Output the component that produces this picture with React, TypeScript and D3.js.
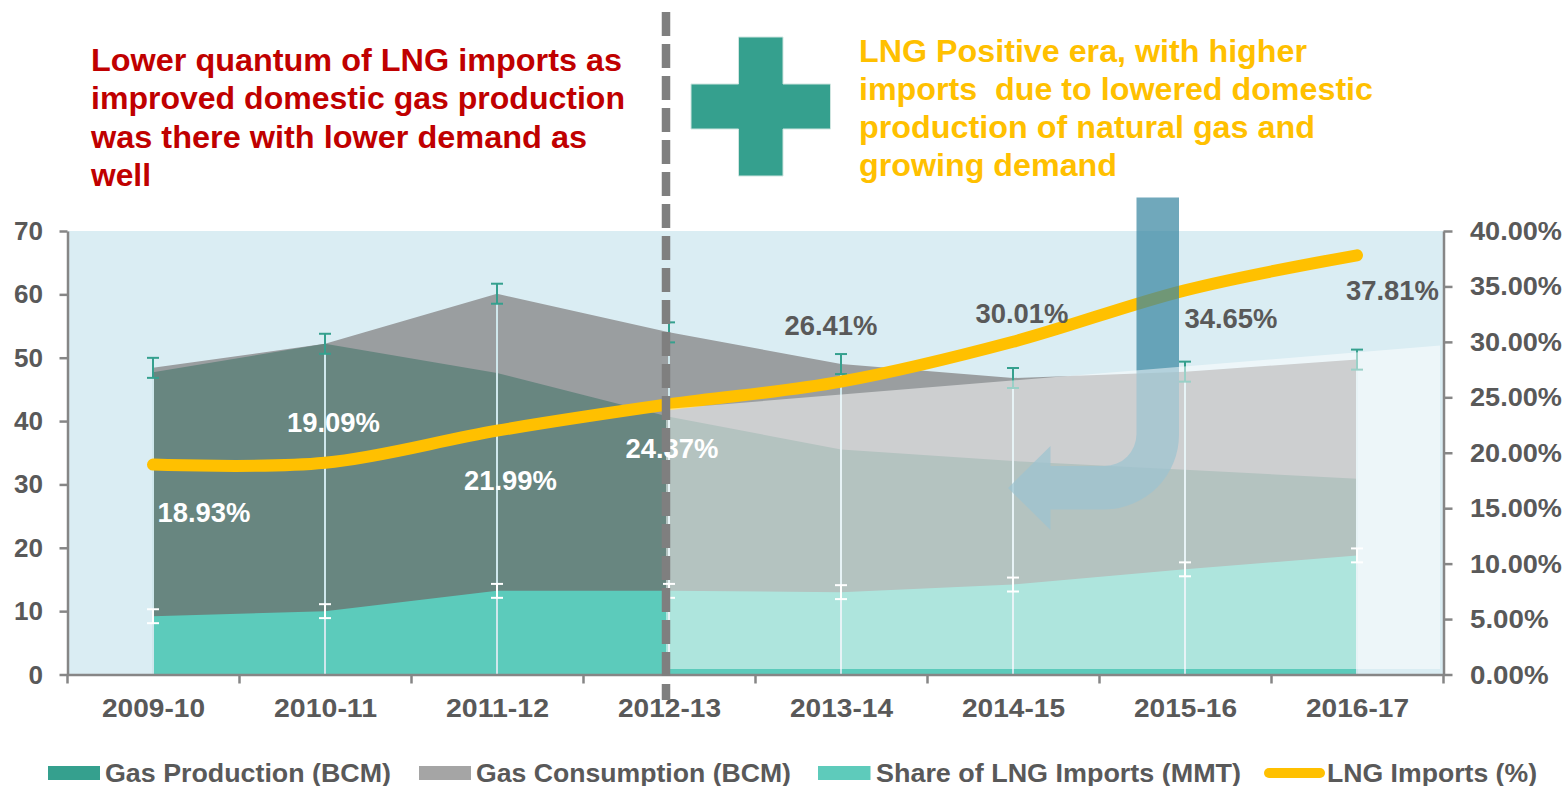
import React, { useEffect, useRef } from 'react';
import * as d3 from 'd3';

const years = ['2009-10', '2010-11', '2011-12', '2012-13', '2013-14', '2014-15', '2015-16', '2016-17'];
const production = [47.7, 52.2, 47.6, 40.7, 35.5, 33.7, 32.3, 30.9];
const consumption = [48.4, 52.2, 60.1, 54, 49, 46.8, 47.8, 49.7];
const lngShare = [9.2, 10, 13.2, 13.2, 13, 14.2, 16.6, 18.8];
const lngPercent = [18.93, 19.09, 21.99, 24.37, 26.41, 30.01, 34.65, 37.81];

const leftTicks = [0, 10, 20, 30, 40, 50, 60, 70];
const rightTicks = [0, 5, 10, 15, 20, 25, 30, 35, 40];

const redLines = [
  'Lower quantum of LNG imports as',
  'improved domestic gas production',
  'was there with lower demand as',
  'well',
];
const yellowLines = [
  'LNG Positive era, with higher',
  'imports  due to lowered domestic',
  'production of natural gas and',
  'growing demand',
];
const redWidths = [531, 534, 496, 60];
const yellowWidths = [448, 514, 456, 258];

// label placement, relative to the line point: dx, baseline dy, fill
const labelOffsets = [
  [50.5, 57, '#fff'],
  [8, -31, '#fff'],
  [13, 59, '#fff'],
  [2.5, 53.5, '#fff'],
  [-10.5, -46.5, '#595959'],
  [8.5, -18.5, '#595959'],
  [45.5, 38, '#595959'],
  [35, 45, '#595959'],
];

const FONT = '"Liberation Sans", Arial, sans-serif';
const GREY = '#595959';
const AXIS = '#868686';
const TEAL = '#35a08e';

const left = 67.5;
const right = 1443.5;
const top = 231;
const bottom = 674.5;

const consumptionErr = 1.58;
const shareErr = 1.1;

function App() {
  const ref = useRef<SVGSVGElement>(null);

  useEffect(() => {
    const svg = d3.select(ref.current);
    svg.selectAll('*').remove();

    const x = d3.scaleBand().domain(years).range([left, right]);
    const cx = (i: number) => x(years[i])! + x.bandwidth() / 2 - 0.5;
    const yL = d3.scaleLinear().domain([0, 70]).range([bottom, top]);
    const yR = d3.scaleLinear().domain([0, 40]).range([bottom, top]);

    svg.append('rect')
      .attr('x', left).attr('y', top)
      .attr('width', right - left).attr('height', bottom - top)
      .attr('fill', '#daedf3');

    const area = (vals: number[]) => d3.area<number>()
      .x((d, i) => cx(i))
      .y0(yL(0))
      .y1(d => yL(d))(vals);

    svg.append('path').attr('d', area(consumption)).attr('fill', '#9a9ea0');
    svg.append('path').attr('d', area(production)).attr('fill', '#688680');
    svg.append('path').attr('d', area(lngShare)).attr('fill', '#5ccbbb');

    // drop lines and error bars
    const errorBar = (g: any, px: number, v: number, err: number, y: any, color: string) => {
      g.append('line').attr('x1', px).attr('x2', px).attr('y1', y(v - err)).attr('y2', y(v + err));
      [v - err, v + err].forEach(e => {
        g.append('line').attr('x1', px - 6).attr('x2', px + 6).attr('y1', y(e)).attr('y2', y(e));
      });
      g.attr('stroke', color).attr('stroke-width', 2);
    };

    years.forEach((d, i) => {
      svg.append('line')
        .attr('x1', cx(i)).attr('x2', cx(i))
        .attr('y1', yL(0)).attr('y2', yL(consumption[i] - consumptionErr))
        .attr('stroke', '#cfe7ec').attr('stroke-width', 2);
      errorBar(svg.append('g'), cx(i), consumption[i], consumptionErr, yL, TEAL);
      errorBar(svg.append('g'), cx(i), lngShare[i], shareErr, yL, '#fff');
    });

    const line = d3.line<number>()
      .x((d, i) => cx(i))
      .y(d => yR(d))
      .curve(d3.curveCardinal.tension(0));

    svg.append('path')
      .attr('d', line(lngPercent))
      .attr('fill', 'none')
      .attr('stroke', '#ffc000')
      .attr('stroke-width', 12)
      .attr('stroke-linecap', 'round');

    // bent arrow
    svg.append('path')
      .attr('d', 'M1136.5 197.5H1179V434A75 75 0 0 1 1104.5 509.5H1050.5V530L1008 488L1050.5 446V466H1104.5A32 32 0 0 0 1136.5 434Z')
      .attr('fill', '#3b88a2')
      .attr('fill-opacity', 0.73);

    // white wash over the later years
    svg.append('path')
      .attr('d', 'M666 409L1440 345.5V669H666Z')
      .attr('fill', '#fff')
      .attr('fill-opacity', 0.5);

    // axes
    const styleAxis = (g: any) => {
      g.selectAll('path,line').attr('stroke', AXIS).attr('stroke-width', 2.5);
      g.selectAll('text')
        .attr('fill', GREY)
        .attr('font-family', FONT)
        .attr('font-weight', 'bold')
        .attr('font-size', 26.5)
        .attr('lengthAdjust', 'spacingAndGlyphs');
    };

    const axisLeft = svg.append('g').attr('transform', `translate(${left},0)`)
      .call(d3.axisLeft(yL).tickValues(leftTicks).tickSize(8).tickSizeOuter(0).tickPadding(16.5) as any);
    styleAxis(axisLeft);
    axisLeft.selectAll('text').attr('dy', 8.5)
      .attr('textLength', (d: any) => (d === 0 ? 14.5 : 29));

    const axisRight = svg.append('g').attr('transform', `translate(${right},0)`)
      .call(d3.axisRight(yR).tickValues(rightTicks).tickSize(9).tickSizeOuter(0).tickPadding(16)
        .tickFormat((d: any) => `${d.toFixed(2)}%`) as any);
    styleAxis(axisRight);
    axisRight.selectAll('text').attr('dy', 8.5).attr('x', 26.5)
      .attr('textLength', (d: any) => (d < 10 ? 78.5 : 92));

    const axisBottom = svg.append('g').attr('transform', `translate(0,${bottom})`)
      .call(d3.axisBottom(x).tickSize(0).tickPadding(0) as any);
    styleAxis(axisBottom);
    axisBottom.selectAll('text').attr('y', 42).attr('dy', 0).attr('textLength', 103);
    d3.range(years.length + 1).forEach(i => {
      const px = left + i * x.bandwidth();
      axisBottom.append('line')
        .attr('x1', px).attr('x2', px).attr('y1', 0).attr('y2', 9)
        .attr('stroke', AXIS).attr('stroke-width', 2.5);
    });

    // data labels
    lngPercent.forEach((d, i) => {
      const [dx, dy, fill] = labelOffsets[i] as [number, number, string];
      svg.append('text')
        .attr('x', cx(i) + dx + 0.5)
        .attr('y', yR(d) + dy)
        .attr('text-anchor', 'middle')
        .attr('fill', fill)
        .attr('font-family', FONT)
        .attr('font-weight', 'bold')
        .attr('font-size', 27)
        .attr('textLength', 93)
        .attr('lengthAdjust', 'spacingAndGlyphs')
        .text(`${d.toFixed(2)}%`);
    });

    // divider
    svg.append('line')
      .attr('x1', 666).attr('x2', 666).attr('y1', 12).attr('y2', 700)
      .attr('stroke', '#7f7f7f')
      .attr('stroke-width', 8.5)
      .attr('stroke-dasharray', '24 8');

    // plus sign
    svg.append('path')
      .attr('d', 'M738.5 37H783V84H830.5V129H783V176H738.5V129H691V84H738.5Z')
      .attr('fill', TEAL)
      .attr('stroke', '#cfe5e0')
      .attr('stroke-width', 1);

    // notes
    const note = (lines: string[], widths: number[], px: number, y0: number, color: string) => {
      lines.forEach((l, i) => {
        svg.append('text')
          .attr('x', px)
          .attr('y', y0 + i * 38.3)
          .attr('fill', color)
          .attr('font-family', FONT)
          .attr('font-weight', 'bold')
          .attr('font-size', 31.5)
          .attr('textLength', widths[i])
          .attr('lengthAdjust', 'spacingAndGlyphs')
          .style('white-space', 'pre')
          .text(l);
      });
    };
    note(redLines, redWidths, 91, 71, '#c00000');
    note(yellowLines, yellowWidths, 859, 61.5, '#ffc000');

    // legend
    const legend = [
      { label: 'Gas Production (BCM)', x0: 48, x1: 100, tx: 105, w: 286, color: TEAL },
      { label: 'Gas Consumption (BCM)', x0: 419, x1: 471, tx: 476, w: 315, color: '#a5a5a5' },
      { label: 'Share of LNG Imports (MMT)', x0: 818, x1: 870.5, tx: 876, w: 365, color: '#5ecbbb' },
      { label: 'LNG Imports (%)', x0: 1269, x1: 1320, tx: 1327, w: 210, color: '#ffc000', isLine: true },
    ];
    legend.forEach(l => {
      if (l.isLine) {
        svg.append('line')
          .attr('x1', l.x0).attr('x2', l.x1).attr('y1', 773).attr('y2', 773)
          .attr('stroke', l.color).attr('stroke-width', 10).attr('stroke-linecap', 'round');
      } else {
        svg.append('rect')
          .attr('x', l.x0).attr('y', 766).attr('width', l.x1 - l.x0).attr('height', 14)
          .attr('fill', l.color);
      }
      svg.append('text')
        .attr('x', l.tx).attr('y', 781.5)
        .attr('fill', GREY)
        .attr('font-family', FONT)
        .attr('font-weight', 'bold')
        .attr('font-size', 26)
        .attr('textLength', l.w)
        .attr('lengthAdjust', 'spacingAndGlyphs')
        .text(l.label);
    });
  }, []);

  return (
    <svg
      ref={ref}
      width={1564}
      height={786}
      style={{ position: 'fixed', left: 0, top: 0, background: '#fff' }}
    />
  );
}

export default App;
